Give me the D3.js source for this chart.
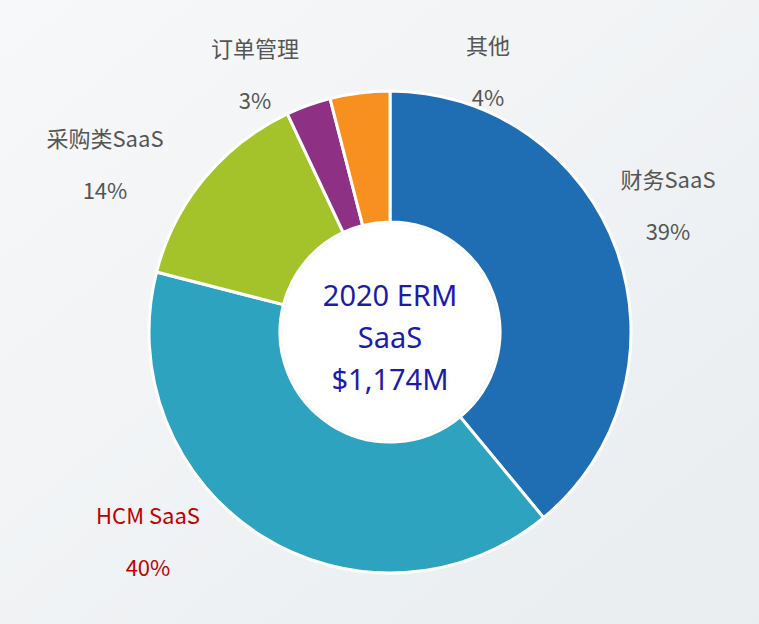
<!DOCTYPE html>
<html><head><meta charset="utf-8">
<script src="https://cdn.jsdelivr.net/npm/d3@7"></script>
<style>body{margin:0;background:#fff}</style>
</head><body>
<div id="chart"></div>
<script>
const categories = ['财务SaaS', 'HCM SaaS', '采购类SaaS', '订单管理', '其他'];
const shares = [39, 40, 14, 3, 4];
const colors = ['#1f6db3', '#2ea3c0', '#a4c32b', '#8e3185', '#f7901e'];
const labelColors = ['#555', '#c00000', '#555', '#555', '#555'];
// label anchors relative to the donut centre
const labelPos = [[278, -144], [-242, 192], [-285, -185], [-135, -275], [98, -278]];

const width = 759, height = 624, cx = 390, cy = 332;
const svg = d3.select('#chart').append('svg').attr('width', width).attr('height', height);

const bg = svg.append('defs').append('linearGradient').attr('id', 'bg')
  .attr('x1', 0).attr('y1', 0).attr('x2', 1).attr('y2', 1);
bg.append('stop').attr('offset', 0).attr('stop-color', '#f7f8f9');
bg.append('stop').attr('offset', 1).attr('stop-color', '#e9edf0');
svg.append('rect').attr('width', width).attr('height', height).attr('fill', 'url(#bg)');

const g = svg.append('g').attr('transform', `translate(${cx},${cy})`);
const pie = d3.pie().sort(null).value(d => d)(shares);
const arc = d3.arc().innerRadius(110).outerRadius(241);

g.selectAll('path').data(pie).join('path')
  .attr('d', arc)
  .attr('fill', (d, i) => colors[i])
  .attr('stroke', '#fff').attr('stroke-width', 3);

g.append('circle').attr('r', 108).attr('fill', '#fff');

const labels = g.selectAll('g.lab').data(pie).join('g')
  .attr('class', 'lab')
  .attr('transform', (d, i) => `translate(${labelPos[i][0]},${labelPos[i][1]})`)
  .style('font-family', 'Noto Sans CJK SC, sans-serif')
  .style('font-size', '22px')
  .attr('text-anchor', 'middle')
  .attr('fill', (d, i) => labelColors[i]);
labels.append('text').text((d, i) => categories[i]);
labels.append('text').attr('y', 52).text(d => d.data + '%');

const center = ['2020 ERM', 'SaaS', '$1,174M'];
g.selectAll('text.c').data(center).join('text')
  .attr('class', 'c')
  .attr('y', (d, i) => -26 + i * 42)
  .attr('text-anchor', 'middle')
  .attr('fill', '#1c1ca8')
  .style('font-family', 'Noto Sans, sans-serif')
  .style('font-size', '29px')
  .text(d => d);
</script>
</body></html>
